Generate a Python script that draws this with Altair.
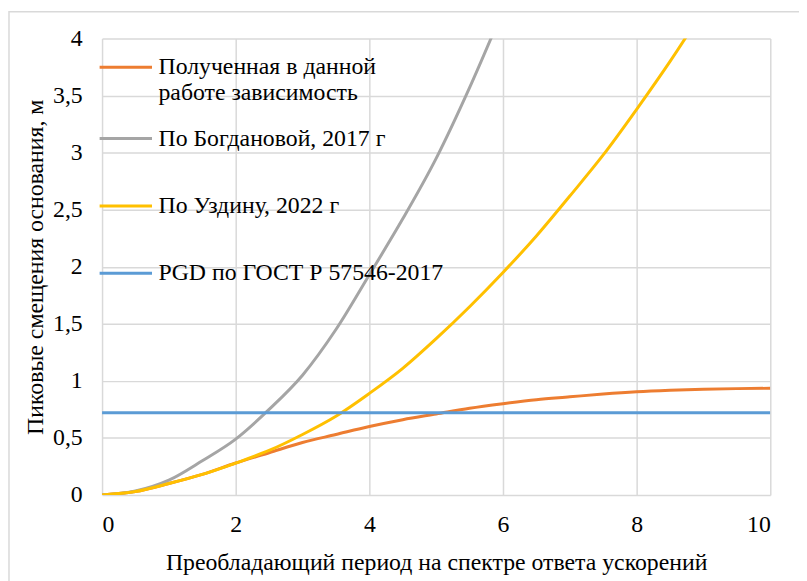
import altair as alt
import pandas as pd

# Period values (x axis)
T = [0, 0.5, 1, 1.5, 2, 2.5, 3, 3.5, 4, 4.5, 5, 5.5, 6, 6.5, 7, 7.5, 8, 8.5, 9, 9.5, 10]

# Series values (y axis)
orange = [0, 0.03, 0.1, 0.18, 0.28, 0.37, 0.46, 0.53, 0.6, 0.66, 0.71, 0.76, 0.8, 0.835,
          0.86, 0.885, 0.905, 0.918, 0.927, 0.932, 0.935]
gray = [0, 0.035, 0.13, 0.3, 0.49, 0.75, 1.05, 1.45, 1.93, 2.42, 2.95, 3.57, 4.25]
yellow = [0, 0.03, 0.1, 0.18, 0.28, 0.39, 0.53, 0.69, 0.89, 1.11, 1.37, 1.65, 1.95, 2.27,
          2.62, 2.98, 3.38, 3.8, 4.25]
blue_T = [0, 10]
blue = [0.72, 0.72]

names = [
    "Полученная в данной|работе зависимость",
    "По Богдановой, 2017 г",
    "По Уздину, 2022 г",
    "PGD по ГОСТ Р 57546-2017",
]
colors = ["#ED7D31", "#A5A5A5", "#FFC000", "#5B9BD5"]

x_ticks = [0, 2, 4, 6, 8, 10]
y_ticks = [0, 0.5, 1, 1.5, 2, 2.5, 3, 3.5, 4]

rows = []
for t, v in zip(T, orange):
    rows.append({"T": t, "v": v, "s": names[0], "o": 0})
for t, v in zip(T, gray):
    rows.append({"T": t, "v": v, "s": names[1], "o": 1})
for t, v in zip(T, yellow):
    rows.append({"T": t, "v": v, "s": names[2], "o": 2})
for t, v in zip(blue_T, blue):
    rows.append({"T": t, "v": v, "s": names[3], "o": 3})
df = pd.DataFrame(rows)

FONT = "'Liberation Serif', 'Times New Roman', 'DejaVu Serif', serif"
FS = 24

border = alt.Chart(pd.DataFrame({"a": [0]})).mark_rect(
    fill=None, stroke="#D9D9D9", strokeWidth=1.5, clip=False
).encode(
    x=alt.value(-94), x2=alt.value(1000), y=alt.value(-27), y2=alt.value(1000)
)

lines = alt.Chart(df).mark_line(strokeWidth=3, clip=True, interpolate="monotone").encode(
    x=alt.X("T:Q",
            scale=alt.Scale(domain=[0, 10], nice=False),
            axis=alt.Axis(values=x_ticks, title="Преобладающий период на спектре ответа ускорений",
                          labelPadding=18, titlePadding=14)),
    y=alt.Y("v:Q",
            scale=alt.Scale(domain=[0, 4], nice=False),
            axis=alt.Axis(values=y_ticks, title="Пиковые смещения основания, м",
                          labelExpr="replace(format(datum.value, '~g'), '.', ',')",
                          labelPadding=20, titlePadding=5)),
    color=alt.Color("s:N",
                    scale=alt.Scale(domain=names, range=colors),
                    legend=alt.Legend(orient="none", legendX=-4, legendY=-5,
                                      title=None, symbolType="stroke", symbolSize=2800,
                                      symbolStrokeWidth=3, labelFont=FONT, labelFontSize=FS,
                                      labelColor="black",
                                      labelExpr="split(datum.label, '|')",
                                      labelLimit=500, labelOffset=5, rowPadding=0,
                                      clipHeight=68)),
    order="o:Q",
    detail="s:N",
)

chart = alt.layer(border, lines).properties(
    width=675, height=461,
    autosize=alt.AutoSizeParams(type="none"),
    padding={"left": 95, "top": 28, "right": 29, "bottom": 84},
).configure(background="white", font=FONT).configure_axis(
    grid=True, gridColor="#D9D9D9", gridWidth=1.5, domain=False, ticks=False,
    labelFont=FONT, labelFontSize=FS, labelColor="black",
    titleFont=FONT, titleFontSize=FS, titleColor="black", titleFontWeight="normal",
).configure_legend(labelFont=FONT, labelFontSize=FS).configure_view(stroke=None)

chart.save("out.html", embed_options={"renderer": "svg", "actions": False})
